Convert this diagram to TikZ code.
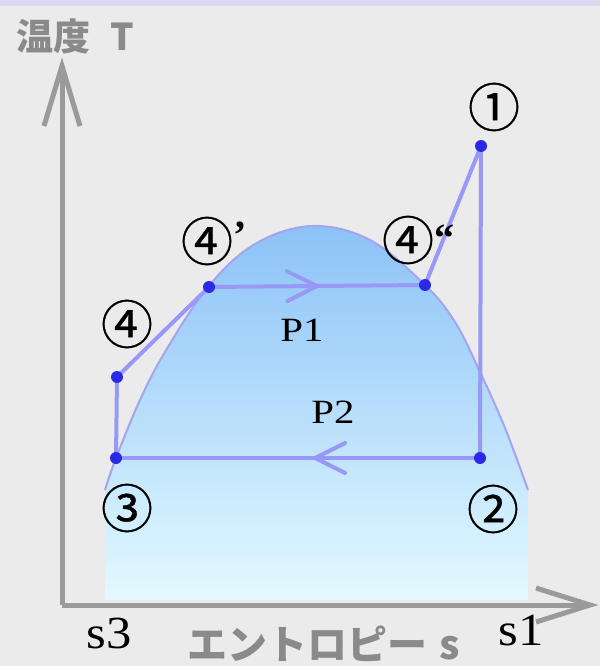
\documentclass[tikz,border=0pt]{standalone}
\usepackage{fontspec}
\setmainfont{Liberation Serif}
\newfontfamily\cjk{Noto Sans CJK JP}
\newfontfamily\cjknum{Noto Sans CJK JP}[FakeBold=0.6]
\newcommand\myticks{\normalfont\bfseries\fontsize{40}{40}\selectfont}
\usetikzlibrary{decorations.markings}
\definecolor{bgc}{HTML}{EBEBEB}
\definecolor{stripec}{HTML}{D9D9F3}
\definecolor{axisc}{HTML}{9A9A9A}
\definecolor{cycc}{HTML}{9898F6}
\definecolor{dotc}{HTML}{2A2AE6}
\definecolor{domeline}{HTML}{A4A4F0}
\definecolor{dometop}{HTML}{8CC2F7}
\definecolor{domebot}{HTML}{E3FAFF}
\definecolor{labc}{HTML}{8A8A8A}
\tikzset{
  axisline/.style={draw=axisc,line width=5pt},
  cyc/.style={draw=cycc,line width=4pt,line cap=round,line join=round},
  midarrow/.style={postaction={decorate},decoration={markings,
      mark=at position #1 with {\draw[cycc,line width=4pt,line cap=round,line join=round] (-30,-15) -- (0,0) -- (-30,15);}}},
  dotmark/.style={circle,fill=dotc,inner sep=0pt,minimum size=12pt},
  num/.style={font=\cjknum\fontsize{52}{52}\selectfont,inner sep=0pt,text=black},
  ptxt/.style={font=\fontsize{34}{34}\selectfont,inner sep=0pt,text=black},
  stxt/.style={font=\fontsize{46}{46}\selectfont,inner sep=0pt,text=black},
  axlab/.style={font=\cjk\bfseries\fontsize{37}{37}\selectfont,inner sep=0pt,text=labc},
}
\begin{document}
\begin{tikzpicture}[x=1pt,y=-1pt]
\useasboundingbox (0,0) rectangle (600,666);
\fill[bgc] (0,0) rectangle (600,666);
\fill[stripec] (0,0) rectangle (600,6);
% dome
\shade[top color=dometop,bottom color=domebot] (105,600) -- plot[smooth,tension=0.6] coordinates {(105,490) (116,458) (140,400) (165,352) (208,287) (255,244) (312,226) (370,240) (425,285) (455,322) (480,372) (505,428) (528,490)} -- (528,600) -- cycle;
\draw[domeline,line width=2pt] plot[smooth,tension=0.6] coordinates {(105,490) (116,458) (140,400) (165,352) (208,287) (255,244) (312,226) (370,240) (425,285) (455,322) (480,372) (505,428) (528,490)};
% axes
\coordinate (O) at (62,605);
\coordinate (Ttip) at (62,66);
\coordinate (Stip) at (590,605);
\coordinate (Ta) at (44,126);
\coordinate (Tb) at (80,126);
\coordinate (Sa) at (536,588);
\coordinate (Sb) at (536,622);
\draw[axisline] (O) -- (Ttip);
\draw[axisline] (O) -- (Stip);
\draw[axisline,line join=miter] (Ta) -- (Ttip) -- (Tb);
\draw[axisline,line join=miter] (Sa) -- (Stip) -- (Sb);
% cycle points
\coordinate (p1) at (481,146);
\coordinate (p2) at (480,458);
\coordinate (p3) at (116,458);
\coordinate (p4) at (117,377);
\coordinate (p4a) at (209,287);
\coordinate (p4b) at (425,285);
\draw[cyc] (p3) -- (p4) -- (p4a);
\draw[cyc,midarrow=0.5] (p4a) -- (p4b);
\draw[cyc] (p4b) -- (p1) -- (p2);
\draw[cyc,midarrow=0.453] (p2) -- (p3);
\foreach \p in {p1,p2,p3,p4,p4a,p4b} \node[dotmark] (d\p) at (\p) {};
% labels
\node[num] (l1) at (494,107) {①};
\node[num] (l2) at (493,509) {②};
\node[num] (l3) at (127,508) {③};
\node[num] (l4) at (127,324) {④};
\node[num] (l4a) at (207,241) {④\rlap{\raisebox{12pt}{\myticks ’}}};
\node[num] (l4b) at (408,240) {④\rlap{\raisebox{8pt}{\myticks “}}};
\node[ptxt] (P1) at (302,330) {\scalebox{1.2}[1]{P1}};
\node[ptxt] (P2) at (333,412) {\scalebox{1.2}[1]{P2}};
\node[stxt] (s3) at (109,633) {\scalebox{1.1}[1]{s3}};
\node[stxt] (s1) at (521,631) {\scalebox{1.1}[1]{s1}};
\node[axlab,anchor=west] (T) at (16,37) {温度\hspace{20pt}T};
\node[axlab] (S) at (324,644) {\fontsize{40}{40}\selectfont エントロピー\hspace{12pt}s};
\end{tikzpicture}
\end{document}
